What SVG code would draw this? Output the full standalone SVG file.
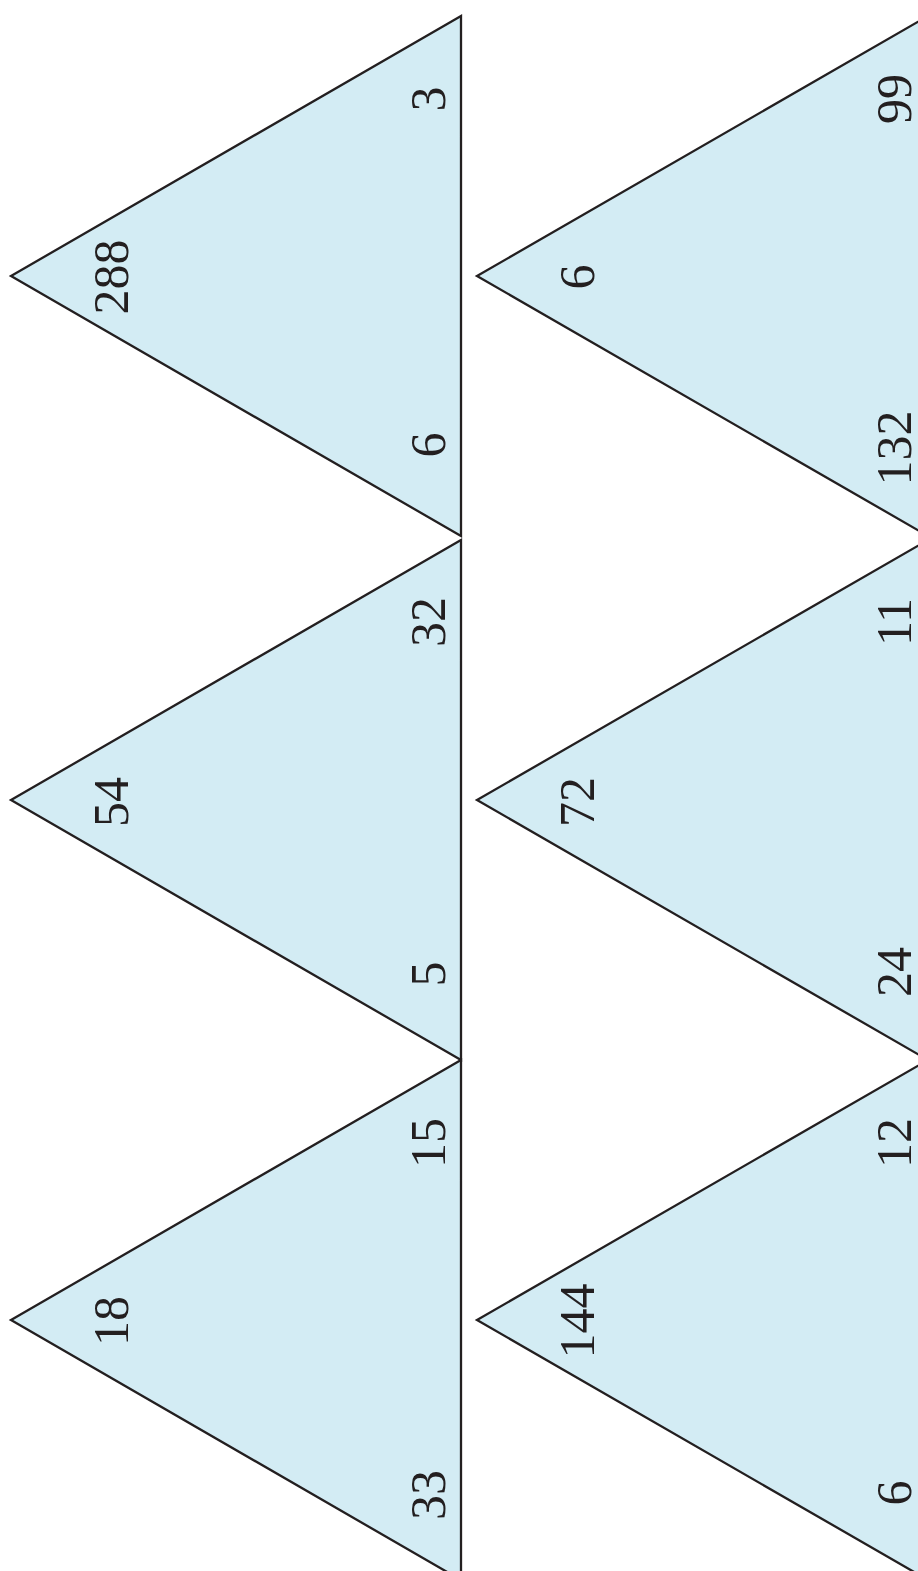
<svg xmlns="http://www.w3.org/2000/svg" width="918" height="1571" viewBox="0 0 918 1571">
<style>
.tri{fill:#d3ecf4;stroke:#231f20;stroke-width:2.3;stroke-linejoin:miter;stroke-miterlimit:10}
.lbl{font-family:"Liberation Serif","Times New Roman",serif;font-size:50px;fill:#231f20;text-anchor:middle}
</style>
<rect width="918" height="1571" fill="#ffffff"/>
<g id="tri-left-1">
<polygon class="tri" points="461,16 461,536 11,276"/>
<text class="lbl" transform="translate(128,277) rotate(-90)">288</text>
<text class="lbl" transform="translate(445,99) rotate(-90)">3</text>
<text class="lbl" transform="translate(445,445) rotate(-90)">6</text>
</g>
<g id="tri-left-2">
<polygon class="tri" points="461,540 461,1060 11,800"/>
<text class="lbl" transform="translate(128,802) rotate(-90)">54</text>
<text class="lbl" transform="translate(445,622) rotate(-90)">32</text>
<text class="lbl" transform="translate(445,974) rotate(-90)">5</text>
</g>
<g id="tri-left-3">
<polygon class="tri" points="461,1060 461,1580 11,1320"/>
<text class="lbl" transform="translate(128,1321) rotate(-90)">18</text>
<text class="lbl" transform="translate(445,1143) rotate(-90)">15</text>
<text class="lbl" transform="translate(445,1495) rotate(-90)">33</text>
</g>
<g id="tri-right-1">
<polygon class="tri" points="928,16 928,536 477,276"/>
<text class="lbl" transform="translate(594,277) rotate(-90)">6</text>
<text class="lbl" transform="translate(911,99) rotate(-90)">99</text>
<text class="lbl" transform="translate(911,448) rotate(-90)">132</text>
</g>
<g id="tri-right-2">
<polygon class="tri" points="928,540 928,1060 477,800"/>
<text class="lbl" transform="translate(594,802) rotate(-90)">72</text>
<text class="lbl" transform="translate(911,622) rotate(-90)">11</text>
<text class="lbl" transform="translate(911,972) rotate(-90)">24</text>
</g>
<g id="tri-right-3">
<polygon class="tri" points="928,1060 928,1580 477,1320"/>
<text class="lbl" transform="translate(594,1321) rotate(-90)">144</text>
<text class="lbl" transform="translate(911,1143) rotate(-90)">12</text>
<text class="lbl" transform="translate(911,1493) rotate(-90)">6</text>
</g>
<g id="connectors"/>
</svg>
